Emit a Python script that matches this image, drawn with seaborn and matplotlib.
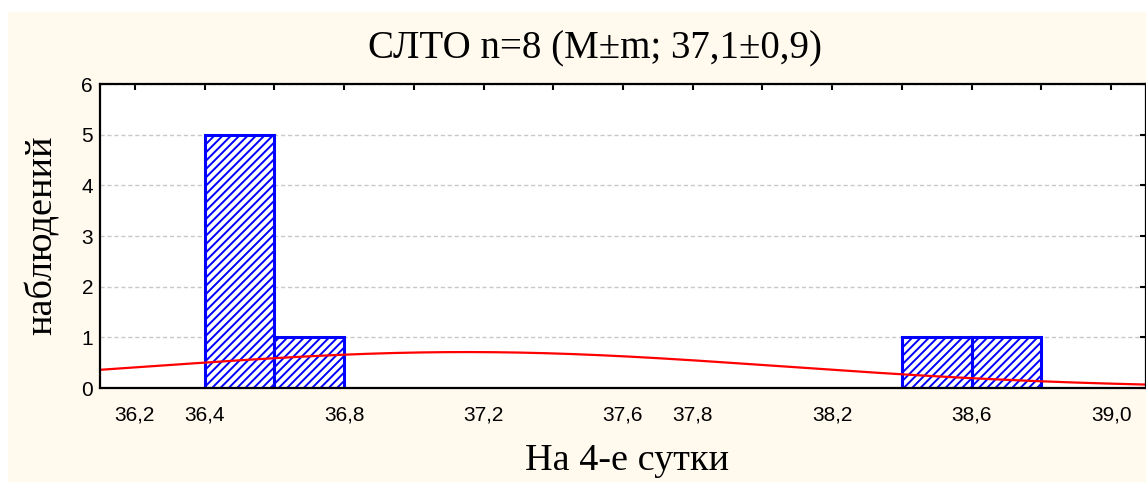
import numpy as np
import matplotlib
matplotlib.use("Agg")
import matplotlib.pyplot as plt
import seaborn as sns
from matplotlib.patches import Rectangle

# ---- data ----
bin_edges = [36.4, 36.6, 36.8, 37.0, 37.2, 37.4, 37.6, 37.8, 38.0, 38.2, 38.4, 38.6, 38.8]
bin_centers = [36.5, 36.7, 38.5, 38.7]
bin_counts = [5, 1, 1, 1]
bin_width = 0.2
n_obs = 8
curve_mean = 37.15
curve_sd = 0.9
x_tick_values = [36.2, 36.4, 36.6, 36.8, 37.0, 37.2, 37.4, 37.6, 37.8, 38.0, 38.2, 38.4, 38.6, 38.8, 39.0]
x_tick_labels = ["36,2", "36,4", "", "36,8", "", "37,2", "", "37,6", "37,8", "", "38,2", "", "38,6", "", "39,0"]
y_tick_values = [0, 1, 2, 3, 4, 5, 6]
title_text = "СЛТО n=8 (M±m; 37,1±0,9)"
x_label = "На 4-е сутки"
y_label = "наблюдений"

W, H = 1146, 482
sns.set_theme(style="white")
plt.rcParams['font.family'] = ['Liberation Sans', 'DejaVu Sans']
plt.rcParams['text.color'] = 'black'
plt.rcParams['hatch.linewidth'] = 1.4
plt.rcParams['hatch.color'] = '#0000FF'

fig = plt.figure(figsize=(W / 100, H / 100), dpi=100, facecolor='white')
fig.add_artist(Rectangle((8 / W, 0), 1, 1 - 12 / H, transform=fig.transFigure,
                         facecolor='#FFF9EE', edgecolor='none', zorder=0))

ax = fig.add_axes([100 / W, 1 - 388 / H, 1 - 100 / W, (388 - 84) / H])
ax.set_facecolor('white')

sns.histplot(x=bin_centers, weights=bin_counts, bins=bin_edges, ax=ax,
             stat='count', color='white', alpha=1.0)
for p in list(ax.patches):
    if p.get_height() == 0:
        p.remove()
    else:
        p.set_facecolor('white')
        p.set_edgecolor('#0000FF')
        p.set_linewidth(2.2)
        p.set_hatch('////')
        p.set_zorder(2)

xs = np.linspace(36.1, 39.1, 400)
ys = n_obs * bin_width * np.exp(-0.5 * ((xs - curve_mean) / curve_sd) ** 2) / (curve_sd * np.sqrt(2 * np.pi))
sns.lineplot(x=xs, y=ys, ax=ax, color='#FF0000', linewidth=1.6, zorder=4)

ax.set_xlim(36.1, 39.1)
ax.set_ylim(0, 6)
ax.set_xticks(x_tick_values)
ax.set_xticklabels(x_tick_labels)
ax.set_yticks(y_tick_values)
ax.set_yticklabels([str(v) for v in y_tick_values])
ax.tick_params(axis='both', direction='in', top=True, right=True, length=4, width=1.5,
               labelsize=15, colors='black', labelcolor='black')
ax.tick_params(axis='x', pad=12.5)
ax.tick_params(axis='y', pad=5)
ax.set_xlabel('')
ax.set_ylabel('')
ax.yaxis.grid(True, linestyle=(0, (3, 2)), color='#C8C8C8', linewidth=1)
ax.xaxis.grid(False)
ax.set_axisbelow(True)
for s in ax.spines.values():
    s.set_color('black')
    s.set_linewidth(1.6)
    s.set_zorder(5)

serif = ['Liberation Serif', 'DejaVu Serif']
fig.text(595 / W, 1 - 58 / H, title_text, family=serif, fontsize=28, ha='center', va='baseline', color='black')
fig.text(627 / W, 1 - 470 / H, x_label, family=serif, fontsize=27.5, ha='center', va='baseline', color='black')
fig.text(42 / W, 1 - 235.5 / H, y_label, family=serif, fontsize=27.5, ha='center', va='center', rotation=90, color='black')

fig.savefig('out.png', dpi=100, facecolor=fig.get_facecolor())
